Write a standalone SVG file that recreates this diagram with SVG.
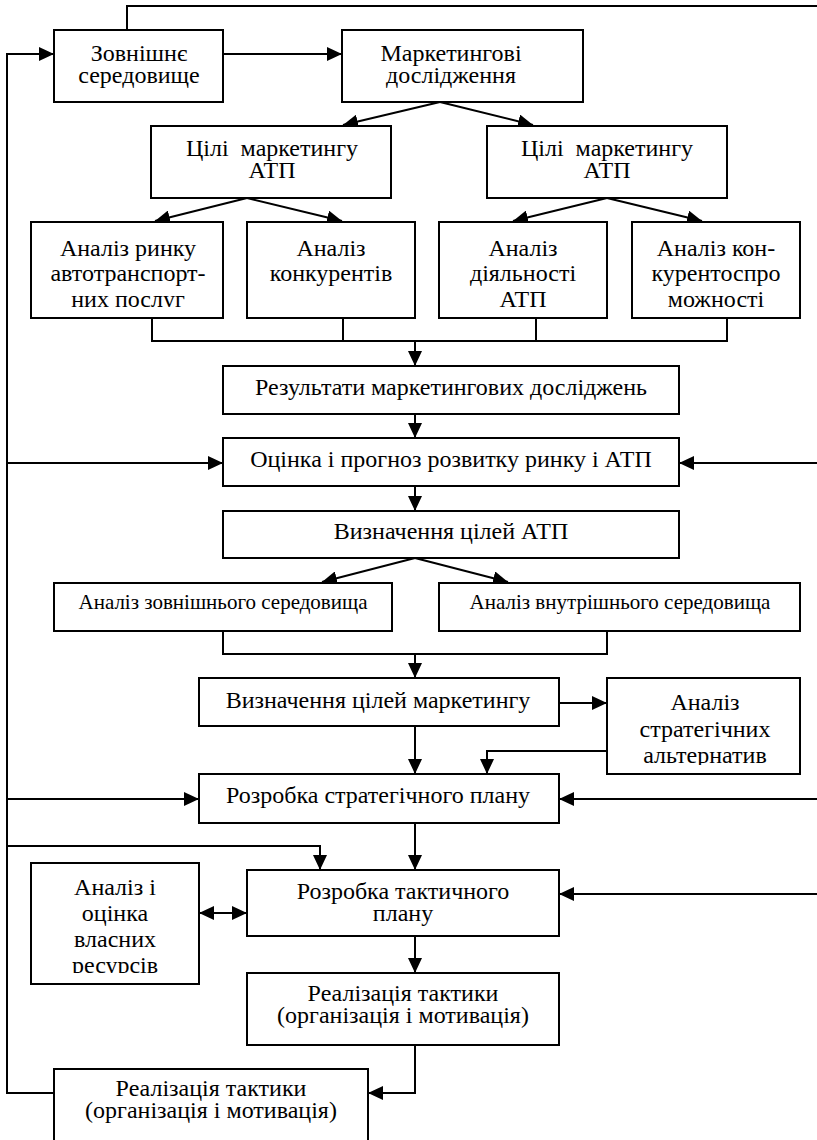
<svg xmlns="http://www.w3.org/2000/svg" width="817" height="1140" viewBox="0 0 817 1140">
  <style>
    .box { fill: #fff; stroke: #000; stroke-width: 2; }
    text { font-family: "Liberation Serif", "Times New Roman", serif; font-size: 24px; fill: #000; text-anchor: middle; }
    text.s { font-size: 21px; }
    .ln { fill: none; stroke: #000; stroke-width: 2; }
    .arr { marker-end: url(#ah); }
  </style>
  <defs>
    <marker id="ah" viewBox="0 0 15 14" markerUnits="userSpaceOnUse" markerWidth="15" markerHeight="14" refX="15" refY="7" orient="auto">
      <path d="M0,0 L15,7 L0,14 z" fill="#000"/>
    </marker>
    <marker id="ahs" viewBox="0 0 15 14" markerUnits="userSpaceOnUse" markerWidth="15" markerHeight="14" refX="15" refY="7" orient="auto-start-reverse">
      <path d="M0,0 L15,7 L0,14 z" fill="#000"/>
    </marker>
    <!-- text boxes whose last line is cut at the frame -->
    <clipPath id="clipRynok"><rect x="31" y="222" width="192" height="85"/></clipPath>
    <clipPath id="clipAlt"><rect x="607" y="678" width="193" height="87"/></clipPath>
    <clipPath id="clipRes"><rect x="31" y="863" width="168" height="110"/></clipPath>
  </defs>

  <!-- connectors -->
  <g id="connectors">
    <path class="ln" d="M127,30 V6 H817"/>
    <path class="ln arr" d="M223,54 H342"/>
    <path class="ln arr" d="M54,1093 H7 V54 H54"/>
    <path class="ln arr" d="M440,102 L343,125"/>
    <path class="ln arr" d="M440,102 L533,125"/>
    <path class="ln arr" d="M247,198 L155,221"/>
    <path class="ln arr" d="M247,198 L342,221"/>
    <path class="ln arr" d="M607,198 L513,221"/>
    <path class="ln arr" d="M607,198 L702,221"/>
    <path class="ln" d="M152,318 V341 H727 V318"/>
    <path class="ln" d="M343,318 V341"/>
    <path class="ln" d="M536,318 V341"/>
    <path class="ln arr" d="M415,341 V366"/>
    <path class="ln arr" d="M415,414 V438"/>
    <path class="ln arr" d="M7,463 H223"/>
    <path class="ln arr" d="M817,463 H679"/>
    <path class="ln arr" d="M415,486 V511"/>
    <path class="ln arr" d="M415,558 L322,582"/>
    <path class="ln arr" d="M415,558 L508,582"/>
    <path class="ln" d="M223,631 V654 H607 V631"/>
    <path class="ln arr" d="M415,654 V678"/>
    <path class="ln arr" d="M559,703 H607"/>
    <path class="ln arr" d="M415,726 V774"/>
    <path class="ln arr" d="M607,751 H487 V774"/>
    <path class="ln arr" d="M7,799 H199"/>
    <path class="ln arr" d="M817,799 H559"/>
    <path class="ln arr" d="M415,823 V870"/>
    <path class="ln arr" d="M7,846 H320 V870"/>
    <path class="ln arr" d="M817,894 H559"/>
    <path class="ln" d="M199,913 H247" marker-start="url(#ahs)" marker-end="url(#ah)"/>
    <path class="ln arr" d="M415,925 V973"/>
    <path class="ln" d="M487,1023 V1045"/>
    <path class="ln arr" d="M415,1045 V1093 H368"/>
  </g>

  <g id="external">
    <rect class="box" x="54" y="30" width="169" height="72"/>
    <text x="139" y="61">Зовнішнє</text>
    <text x="139" y="83">середовище</text>
  </g>
  <g id="research">
    <rect class="box" x="342" y="30" width="241" height="72"/>
    <text x="451" y="61">Маркетингові</text>
    <text x="451" y="83">дослідження</text>
  </g>
  <g id="goals-left">
    <rect class="box" x="151" y="126" width="240" height="72"/>
    <text x="272" y="156">Цілі&#160; маркетингу</text>
    <text x="272" y="178">АТП</text>
  </g>
  <g id="goals-right">
    <rect class="box" x="487" y="126" width="240" height="72"/>
    <text x="607" y="156">Цілі&#160; маркетингу</text>
    <text x="607" y="178">АТП</text>
  </g>
  <g id="market-analysis">
    <rect class="box" x="31" y="222" width="192" height="96"/>
    <g clip-path="url(#clipRynok)">
      <text x="128" y="256">Аналіз ринку</text>
      <text x="128" y="281">автотранспорт-</text>
      <text x="128" y="307">них послуг</text>
    </g>
  </g>
  <g id="competitors">
    <rect class="box" x="247" y="222" width="168" height="96"/>
    <text x="331" y="256">Аналіз</text>
    <text x="331" y="281">конкурентів</text>
  </g>
  <g id="activity">
    <rect class="box" x="439" y="222" width="168" height="96"/>
    <text x="523" y="256">Аналіз</text>
    <text x="523" y="281">діяльності</text>
    <text x="523" y="307">АТП</text>
  </g>
  <g id="competitiveness">
    <rect class="box" x="632" y="222" width="168" height="96"/>
    <text x="716" y="256">Аналіз кон-</text>
    <text x="716" y="281">курентоспро</text>
    <text x="716" y="307">можності</text>
  </g>
  <g id="results">
    <rect class="box" x="223" y="366" width="456" height="48"/>
    <text x="451" y="395">Результати маркетингових досліджень</text>
  </g>
  <g id="forecast">
    <rect class="box" x="223" y="438" width="456" height="48"/>
    <text x="451" y="467">Оцінка і прогноз розвитку ринку і АТП</text>
  </g>
  <g id="company-goals">
    <rect class="box" x="223" y="511" width="456" height="47"/>
    <text x="451" y="539">Визначення цілей АТП</text>
  </g>
  <g id="outer-env">
    <rect class="box" x="54" y="583" width="338" height="48"/>
    <text class="s" x="223" y="609">Аналіз зовнішнього середовища</text>
  </g>
  <g id="inner-env">
    <rect class="box" x="439" y="583" width="361" height="48"/>
    <text class="s" x="620" y="609">Аналіз внутрішнього середовища</text>
  </g>
  <g id="marketing-goals">
    <rect class="box" x="199" y="678" width="360" height="48"/>
    <text x="378" y="708">Визначення цілей маркетингу</text>
  </g>
  <g id="alternatives">
    <rect class="box" x="607" y="678" width="193" height="96"/>
    <g clip-path="url(#clipAlt)">
      <text x="705" y="710">Аналіз</text>
      <text x="705" y="737">стратегічних</text>
      <text x="705" y="763">альтернатив</text>
    </g>
  </g>
  <g id="strategic-plan">
    <rect class="box" x="199" y="774" width="360" height="49"/>
    <text x="378" y="803">Розробка стратегічного плану</text>
  </g>
  <g id="resources">
    <rect class="box" x="31" y="863" width="168" height="121"/>
    <g clip-path="url(#clipRes)">
      <text x="115" y="895">Аналіз і</text>
      <text x="115" y="921">оцінка</text>
      <text x="115" y="947">власних</text>
      <text x="115" y="973">ресурсів</text>
    </g>
  </g>
  <g id="tactical-plan">
    <rect class="box" x="247" y="870" width="312" height="66"/>
    <text x="403" y="899">Розробка тактичного</text>
    <text x="403" y="921">плану</text>
  </g>
  <g id="tactics-1">
    <rect class="box" x="247" y="973" width="312" height="72"/>
    <text x="403" y="1001">Реалізація тактики</text>
    <text x="403" y="1023">(організація і мотивація)</text>
  </g>
  <g id="tactics-2">
    <rect class="box" x="54" y="1069" width="314" height="90"/>
    <text x="211" y="1096">Реалізація тактики</text>
    <text x="211" y="1118">(організація і мотивація)</text>
  </g>
</svg>
